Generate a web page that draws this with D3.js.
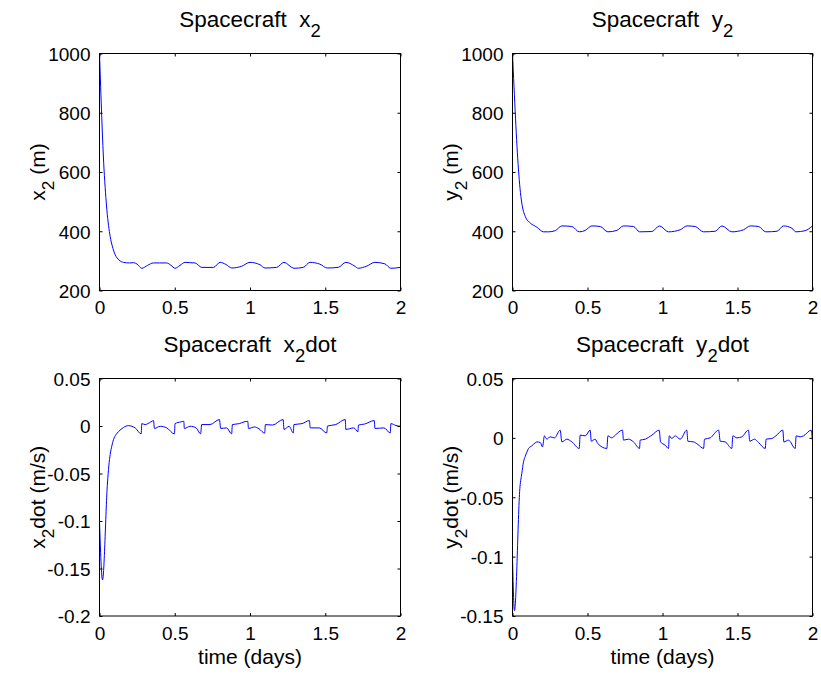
<!DOCTYPE html>
<html>
<head>
<meta charset="utf-8">
<script src="https://cdn.jsdelivr.net/npm/d3@7"></script>
<style>
  html, body { margin: 0; padding: 0; background: #fff; }
  svg { display: block; }
  text { font-family: "Liberation Sans", Arial, Helvetica, sans-serif; fill: #000; white-space: pre; }
</style>
</head>
<body>
<svg id="chart" width="821" height="675"></svg>
<script>
// ---------------- data ----------------
const xTicks = [0, 0.5, 1, 1.5, 2];
const posTicks = [200, 400, 600, 800, 1000];
const xdotTicks = [-0.2, -0.15, -0.1, -0.05, 0, 0.05];
const ydotTicks = [-0.15, -0.1, -0.05, 0, 0.05];

// time (days), value pairs
const x2Data = [[0,1000],[0.03,610],[0.04,530],[0.049,472],[0.06,420],[0.071,382],[0.085,350],[0.104,321],[0.13,303],[0.159,295],[0.2,293],[0.226,294],[0.25,289],[0.281,275],[0.32,285],[0.358,293],[0.4,293],[0.447,293],[0.475,285],[0.502,275],[0.535,285],[0.569,295],[0.6,294],[0.635,293],[0.68,278],[0.757,278],[0.801,295],[0.84,288],[0.879,276],[0.945,282],[1.0,295],[1.066,287],[1.10,276],[1.177,278],[1.226,295],[1.292,275],[1.354,278],[1.398,295],[1.464,289],[1.513,276],[1.586,278],[1.637,295],[1.697,282],[1.719,275],[1.774,282],[1.83,295],[1.896,290],[1.936,275],[2.0,278]];

const y2Data = [[0,1000],[0.04,607],[0.05,545],[0.062,495],[0.085,450],[0.118,428],[0.162,414],[0.207,398],[0.24,398],[0.285,402],[0.329,418],[0.396,416],[0.445,398],[0.485,403],[0.529,418],[0.585,416],[0.636,398],[0.696,403],[0.74,418],[0.807,416],[0.847,398],[0.929,399],[0.98,418],[1.04,398],[1.118,405],[1.163,418],[1.218,416],[1.273,398],[1.351,400],[1.396,418],[1.463,398],[1.54,405],[1.585,418],[1.64,416],[1.689,398],[1.763,400],[1.807,418],[1.863,410],[1.889,398],[1.951,402],[2.0,418]];

const x2dotData = [[0,-0.1005],[0.02,-0.162],[0.053,-0.06],[0.062,-0.042],[0.071,-0.030],[0.082,-0.021],[0.093,-0.0143],[0.11,-0.009],[0.126,-0.006],[0.16,-0.0015],[0.192,0.0004],[0.215,-0.0003],[0.237,-0.002],[0.277,-0.0083],[0.281,0.0025],[0.303,0.0015],[0.341,0.0043],[0.359,0.0057],[0.365,-0.0026],[0.403,-0.0003],[0.447,-0.002],[0.498,-0.0083],[0.502,0.0025],[0.54,0.0043],[0.56,0.005],[0.564,-0.0026],[0.602,-0.0003],[0.642,-0.002],[0.672,-0.0083],[0.679,0.0015],[0.734,0.0015],[0.797,0.0068],[0.805,-0.0026],[0.845,-0.002],[0.878,-0.0083],[0.883,0.0015],[0.929,0.0025],[0.96,0.0043],[0.985,0.005],[0.99,-0.0026],[1.03,-0.001],[1.06,-0.003],[1.098,-0.0075],[1.102,0.0015],[1.15,0.001],[1.22,0.0068],[1.226,-0.0036],[1.26,-0.0003],[1.288,-0.0073],[1.292,0.0015],[1.345,0.0025],[1.395,0.0057],[1.4,-0.002],[1.46,-0.002],[1.51,-0.0073],[1.515,0.0],[1.57,0.0015],[1.633,0.0068],[1.637,-0.0036],[1.69,-0.002],[1.717,-0.006],[1.721,0.001],[1.76,0.002],[1.826,0.0057],[1.83,-0.0026],[1.89,-0.002],[1.932,-0.0073],[1.936,0.0025],[1.97,0.0005],[2.0,-0.0003]];

const y2dotData = [[0,-0.1006],[0.013,-0.1455],[0.05,-0.041],[0.062,-0.030],[0.073,-0.0205],[0.085,-0.0155],[0.096,-0.012],[0.107,-0.0089],[0.129,-0.0067],[0.151,-0.0042],[0.162,-0.0034],[0.185,-0.0039],[0.2,-0.0076],[0.213,0.0017],[0.229,-0.0011],[0.251,0.0009],[0.28,0.0],[0.318,0.0065],[0.329,-0.0034],[0.362,-0.0011],[0.396,-0.0034],[0.445,-0.0089],[0.451,0.0023],[0.485,0.0017],[0.518,0.0065],[0.525,-0.0028],[0.551,-0.0011],[0.569,-0.0048],[0.629,-0.0089],[0.636,0.0017],[0.662,0.0],[0.685,0.0023],[0.733,0.0065],[0.74,-0.0019],[0.773,-0.0011],[0.807,-0.0034],[0.847,-0.0089],[0.851,-0.0019],[0.885,-0.0011],[0.929,0.0023],[0.978,0.0065],[0.987,-0.0034],[1.018,-0.0062],[1.04,-0.0089],[1.045,0.0017],[1.062,-0.0005],[1.085,0.0017],[1.118,-0.0011],[1.162,0.0065],[1.169,-0.0028],[1.207,-0.0034],[1.236,-0.0056],[1.274,-0.0089],[1.28,-0.0011],[1.318,0.0],[1.374,0.0065],[1.385,-0.0028],[1.418,-0.0034],[1.462,-0.0089],[1.469,0.0017],[1.496,0.0],[1.529,0.0009],[1.573,0.0065],[1.582,-0.0028],[1.613,-0.0011],[1.64,-0.0039],[1.685,-0.0089],[1.691,-0.0011],[1.729,-0.0005],[1.756,0.0017],[1.802,0.0065],[1.809,-0.0034],[1.84,-0.0019],[1.885,-0.0089],[1.891,0.0017],[1.918,0.0009],[1.94,0.0017],[1.991,0.0065],[2.0,-0.003]];

// ---------------- layout ----------------
const svg = d3.select("#chart");
const TICK_FS = 19, TITLE_FS = 22.5, LABEL_FS = 21;

const panels = [
  { data: x2Data, x0: 99.5, x1: 400.5, y0: 53.5, y1: 290.5, dom: [200, 1000], ticks: posTicks,
    title: ["Spacecraft  x", "2", ""], ylab: ["x", "2", " (m)"], ylabX: 45, xlab: false },
  { data: y2Data, x0: 512.5, x1: 812.5, y0: 53.5, y1: 290.5, dom: [200, 1000], ticks: posTicks,
    title: ["Spacecraft  y", "2", ""], ylab: ["y", "2", " (m)"], ylabX: 458, xlab: false },
  { data: x2dotData, x0: 99.5, x1: 400.5, y0: 378.5, y1: 616, dom: [-0.2, 0.05], ticks: xdotTicks,
    title: ["Spacecraft  x", "2", "dot"], ylab: ["x", "2", "dot (m/s)"], ylabX: 45, xlab: true },
  { data: y2dotData, x0: 512.5, x1: 812.5, y0: 378.5, y1: 616, dom: [-0.15, 0.05], ticks: ydotTicks,
    title: ["Spacecraft  y", "2", "dot"], ylab: ["y", "2", "dot (m/s)"], ylabX: 458, xlab: true }
];

const fmt = v => {
  if (Math.abs(v) < 1e-12) return "0";
  return String(+v.toFixed(4));
};

function richText(sel, parts, fs) {
  sel.append("tspan").text(parts[0]);
  sel.append("tspan").attr("dy", fs * 0.45).attr("font-size", fs * 0.82).text(parts[1]);
  if (parts[2]) sel.append("tspan").attr("dy", -fs * 0.45).text(parts[2]);
}

panels.forEach((p, i) => {
  const x = d3.scaleLinear().domain([0, 2]).range([p.x0, p.x1]);
  const y = d3.scaleLinear().domain(p.dom).range([p.y1, p.y0]);
  const g = svg.append("g");

  const cid = "clip" + i;
  svg.append("clipPath").attr("id", cid).append("rect")
    .attr("x", p.x0).attr("y", p.y0).attr("width", p.x1 - p.x0).attr("height", p.y1 - p.y0);

  const line = d3.line().x(d => x(d[0])).y(d => y(d[1])).curve(d3.curveMonotoneX);
  g.append("path").datum(p.data)
    .attr("clip-path", `url(#${cid})`)
    .attr("d", line).attr("fill", "none").attr("stroke", "#0000ff").attr("stroke-width", 1);

  const axB = g.append("g").attr("transform", `translate(0,${p.y1})`)
    .call(d3.axisBottom(x).tickValues(xTicks).tickSize(-3).tickPadding(7).tickFormat(fmt));
  const axT = g.append("g").attr("transform", `translate(0,${p.y0})`)
    .call(d3.axisTop(x).tickValues(xTicks).tickSize(-3).tickFormat(""));
  const axL = g.append("g").attr("transform", `translate(${p.x0},0)`)
    .call(d3.axisLeft(y).tickValues(p.ticks).tickSize(-3).tickPadding(9).tickFormat(fmt));
  const axR = g.append("g").attr("transform", `translate(${p.x1},0)`)
    .call(d3.axisRight(y).tickValues(p.ticks).tickSize(-3).tickFormat(""));
  [axB, axT, axL, axR].forEach(a => {
    a.select(".domain").remove();
    a.selectAll("line").attr("stroke", "#000");
    a.selectAll("text").attr("font-size", TICK_FS).attr("font-family", "Liberation Sans, Arial, sans-serif").attr("fill", "#000");
  });
  axB.selectAll("text").attr("dy", "0.88em");
  axL.selectAll("text").attr("dy", "0.36em");

  g.append("rect").attr("x", p.x0).attr("y", p.y0)
    .attr("width", p.x1 - p.x0).attr("height", p.y1 - p.y0)
    .attr("fill", "none").attr("stroke", "#000").attr("stroke-width", 1);

  const t = g.append("text").attr("x", (p.x0 + p.x1) / 2).attr("y", p.y0 - 26.5)
    .attr("text-anchor", "middle").attr("font-size", TITLE_FS);
  richText(t, p.title, TITLE_FS);

  const yl = g.append("text")
    .attr("transform", `translate(${p.ylabX},${(p.y0 + p.y1) / 2}) rotate(-90)`)
    .attr("text-anchor", "middle").attr("font-size", LABEL_FS);
  richText(yl, p.ylab, LABEL_FS);

  if (p.xlab) {
    g.append("text").attr("x", (p.x0 + p.x1) / 2).attr("y", 664)
      .attr("text-anchor", "middle").attr("font-size", LABEL_FS).text("time (days)");
  }
});
</script>
</body>
</html>
